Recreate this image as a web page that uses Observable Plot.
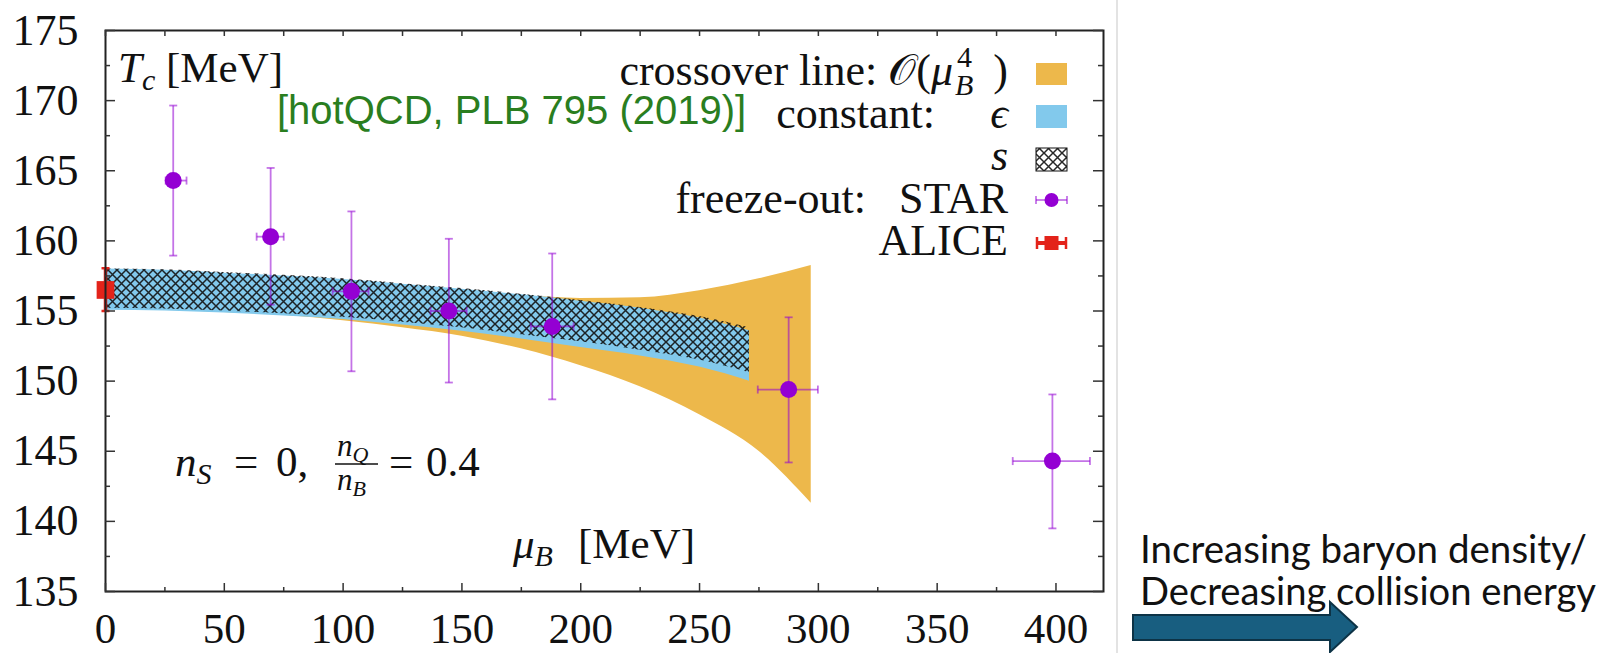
<!DOCTYPE html>
<html><head><meta charset="utf-8">
<script src="https://cdn.jsdelivr.net/npm/d3@7"></script>
<script src="https://cdn.jsdelivr.net/npm/@observablehq/plot@0.6"></script>
<style>
html,body{margin:0;padding:0;background:#fff;}
#wrap{position:relative;width:1615px;height:653px;overflow:hidden;}
</style></head><body><div id="wrap"></div>
<script>
// ---- data ----
const orangeMu = [0,25,50,75,100,125,150,175,200,225,250,275,297];
const orangeHi = [157.9,157.85,157.6,157.35,157.1,156.75,156.4,156.1,155.9,155.95,156.45,157.3,158.25];
const orangeLo = [155.1,155.05,154.9,154.7,154.3,153.8,153.2,152.3,151.1,149.6,147.6,145.0,141.3];
const epsMu = [0,25,50,75,100,125,150,175,200,225,250,271];
const epsHi = [158.0,157.9,157.7,157.5,157.25,156.9,156.55,156.15,155.7,155.2,154.5,153.6];
const epsLo = [155.05,155.0,154.85,154.65,154.4,154.0,153.55,153.0,152.4,151.8,151.0,150.0];
const sHi = [158.0,157.95,157.75,157.55,157.3,156.95,156.6,156.2,155.75,155.25,154.6,153.8];
const sLo = [155.2,155.15,155.0,154.8,154.55,154.2,153.8,153.3,152.8,152.2,151.5,150.6];

const starMu   = [28.5, 69.5, 103.5, 144.5, 188, 287.5, 398.5];
const starMuLo = [25.3, 63.6, 95.6, 136.8, 179, 274.5, 381.8];
const starMuHi = [34.1, 75.0, 110.7, 152.0, 197, 299.8, 414.3];
const starT    = [164.3, 160.3, 156.4, 155.0, 153.9, 149.4, 144.3];
const starTLo  = [158.95, 155.45, 150.7, 149.9, 148.7, 144.2, 139.5];
const starTHi  = [169.65, 165.2, 162.1, 160.15, 159.1, 154.55, 149.05];

const aliceMu = [0];
const aliceT = [156.5];
const aliceTLo = [155.0];
const aliceTHi = [158.05];

const xMajor = [0,50,100,150,200,250,300,350,400];
const xMinor = [25,75,125,175,225,275,325,375];
const yMajor = [135,140,145,150,155,160,165,170,175];
const yMinor = [137.5,142.5,147.5,152.5,157.5,162.5,167.5,172.5];

// ---- tables ----
const orange = orangeMu.map((mu,i)=>({mu, lo:orangeLo[i], hi:orangeHi[i]}));
const eps = epsMu.map((mu,i)=>({mu, lo:epsLo[i], hi:epsHi[i]}));
const sband = epsMu.map((mu,i)=>({mu, lo:sLo[i], hi:sHi[i]}));
const star = starMu.map((mu,i)=>({mu, muLo:starMuLo[i], muHi:starMuHi[i], T:starT[i], lo:starTLo[i], hi:starTHi[i]}));
const alice = aliceMu.map((mu,i)=>({mu, T:aliceT[i], lo:aliceTLo[i], hi:aliceTHi[i]}));

const W=1615, H=653, ML=105, MR=512, MT=30, MB=62;
const PW=W-ML-MR, PH=H-MT-MB;

const hcap = {draw(ctx,size){const r=Math.sqrt(size/Math.PI); ctx.moveTo(-r,0); ctx.lineTo(r,0);}};
const vcap = {draw(ctx,size){const r=Math.sqrt(size/Math.PI); ctx.moveTo(0,-r); ctx.lineTo(0,r);}};

const ORANGE="#EDB84B", BLUE="#82C9EC", PURPLE="#9400D3", RED="#E3231A", TICK="#333";
const ebar = {stroke:PURPLE, strokeOpacity:0.55, strokeWidth:1.8};

const svg = Plot.plot({
  width:W, height:H, marginLeft:ML, marginRight:MR, marginTop:MT, marginBottom:MB,
  x:{domain:[0,420], label:null}, y:{domain:[135,175], label:null},
  style:{fontFamily:"'Liberation Serif', 'DejaVu Serif', serif", background:"transparent", color:"#111", overflow:"visible"},
  marks:[
    Plot.areaY(orange,{x:"mu", y1:"lo", y2:"hi", fill:ORANGE, curve:"monotone-x"}),
    Plot.areaY(eps,{x:"mu", y1:"lo", y2:"hi", fill:BLUE, curve:"monotone-x"}),
    Plot.areaY(sband,{x:"mu", y1:"lo", y2:"hi", fill:"url(#xhatch)", curve:"monotone-x"}),
    // ALICE
    Plot.link(alice,{x1:"mu", x2:"mu", y1:"lo", y2:"hi", stroke:RED, strokeWidth:3.5}),
    Plot.dot(alice,{x:"mu", y:"lo", symbol:hcap, r:4, fill:"none", stroke:RED, strokeWidth:2.5}),
    Plot.dot(alice,{x:"mu", y:"hi", symbol:hcap, r:4, fill:"none", stroke:RED, strokeWidth:2.5}),
    Plot.dot(alice,{x:"mu", y:"T", symbol:"square", r:10, fill:RED, stroke:null}),
    // STAR error bars
    Plot.link(star,{x1:"mu", x2:"mu", y1:"lo", y2:"hi", ...ebar}),
    Plot.link(star,{x1:"muLo", x2:"muHi", y1:"T", y2:"T", ...ebar}),
    Plot.dot(star,{x:"mu", y:"lo", symbol:hcap, r:4, fill:"none", ...ebar}),
    Plot.dot(star,{x:"mu", y:"hi", symbol:hcap, r:4, fill:"none", ...ebar}),
    Plot.dot(star,{x:"muLo", y:"T", symbol:vcap, r:4, fill:"none", ...ebar}),
    Plot.dot(star,{x:"muHi", y:"T", symbol:vcap, r:4, fill:"none", ...ebar}),
    Plot.dot(star,{x:"mu", y:"T", r:8.5, fill:PURPLE, stroke:null}),
    // frame and inward ticks
    Plot.frame({stroke:"#222", strokeWidth:2}),
    Plot.tickY(yMajor,{insetRight:PW-10, stroke:TICK, strokeWidth:1.5}),
    Plot.tickY(yMinor,{insetRight:PW-5, stroke:TICK, strokeWidth:1.5}),
    Plot.tickY(yMajor,{insetLeft:PW-10, stroke:TICK, strokeWidth:1.5}),
    Plot.tickY(yMinor,{insetLeft:PW-5, stroke:TICK, strokeWidth:1.5}),
    Plot.tickX(xMajor,{insetTop:PH-8, stroke:TICK, strokeWidth:1.5}),
    Plot.tickX(xMinor,{insetTop:PH-4, stroke:TICK, strokeWidth:1.5}),
    Plot.tickX(xMajor,{insetBottom:PH-6, stroke:TICK, strokeWidth:1.5}),
    Plot.tickX(xMinor,{insetBottom:PH-6, stroke:TICK, strokeWidth:1.5}),
    Plot.axisY(yMajor,{anchor:"left", tickSize:0, tickPadding:27, fontSize:44, label:null, fill:"#111"}),
    Plot.axisX(xMajor,{anchor:"bottom", tickSize:0, tickPadding:21, fontSize:43, label:null, fill:"#111"})
  ]
});
document.getElementById("wrap").appendChild(svg);

// ---- decorations: pattern, annotations, legend, right panel ----
const NS="http://www.w3.org/2000/svg";
function add(parent, tag, attrs, text){
  const e=document.createElementNS(NS,tag);
  for(const k in attrs) e.setAttribute(k, attrs[k]);
  if(text!=null) e.textContent=text;
  parent.appendChild(e); return e;
}
const defs = document.createElementNS(NS,"defs");
svg.insertBefore(defs, svg.firstChild);
const pat = add(defs,"pattern",{id:"xhatch", patternUnits:"userSpaceOnUse", width:9, height:9});
add(pat,"path",{d:"M-1,-1L10,10M10,-1L-1,10", stroke:"#111", "stroke-width":1.5, fill:"none", "stroke-opacity":0.9});

const SERIF="'Liberation Serif','DejaVu Serif',serif";
const g = add(svg,"g",{"font-family":SERIF, fill:"#111", "text-anchor":"start"});

// T_c [MeV]
let t = add(g,"text",{x:118, y:82, "font-size":43});
add(t,"tspan",{"font-style":"italic"},"T");
add(t,"tspan",{"font-style":"italic","font-size":30, dy:8},"c");
add(t,"tspan",{dy:-8},"\u00a0[MeV]");

// mu_B [MeV]
t = add(g,"text",{x:513, y:558, "font-size":43});
add(t,"tspan",{"font-style":"italic"},"\u03bc");
add(t,"tspan",{"font-style":"italic","font-size":30, dy:8},"B");
add(g,"text",{x:578, y:558, "font-size":43},"[MeV]");

// hotQCD reference
add(g,"text",{x:277, y:124, "font-size":40, "font-family":"'Liberation Sans',Arial,sans-serif", fill:"#2A7E1F"},"[hotQCD, PLB 795 (2019)]");

// n_S = 0, n_Q/n_B = 0.4
t = add(g,"text",{x:175, y:476, "font-size":43});
add(t,"tspan",{"font-style":"italic"},"n");
add(t,"tspan",{"font-style":"italic","font-size":30, dy:8},"S");
add(g,"text",{x:234, y:476, "font-size":43},"=");
add(g,"text",{x:276, y:476, "font-size":43},"0,");
t = add(g,"text",{x:337, y:456, "font-size":31});
add(t,"tspan",{"font-style":"italic"},"n");
add(t,"tspan",{"font-style":"italic","font-size":22, dy:6},"Q");
add(g,"line",{x1:335, x2:378, y1:464, y2:464, stroke:"#111", "stroke-width":1.5});
t = add(g,"text",{x:337, y:490, "font-size":31});
add(t,"tspan",{"font-style":"italic"},"n");
add(t,"tspan",{"font-style":"italic","font-size":22, dy:6},"B");
add(g,"text",{x:389, y:476, "font-size":43},"=");
add(g,"text",{x:426, y:476, "font-size":43},"0.4");

// legend
const LX=1008, SX=1036, SW=31;
t = add(g,"text",{x:953, y:85, "font-size":44, "text-anchor":"end"});
add(t,"tspan",{},"crossover line: \u{1D4AA}(");
add(t,"tspan",{"font-style":"italic"},"\u03bc");
add(g,"text",{x:957, y:67, "font-size":30},"4");
add(g,"text",{x:955, y:95, "font-size":30, "font-style":"italic"},"B");
add(g,"text",{x:LX, y:85, "font-size":44, "text-anchor":"end"},")");
add(g,"rect",{x:SX, y:63, width:SW, height:22, fill:ORANGE});

add(g,"text",{x:935, y:128, "font-size":44, "text-anchor":"end"},"constant:");
add(g,"text",{x:LX, y:128, "font-size":44, "text-anchor":"end", "font-style":"italic"},"\u03f5");
add(g,"rect",{x:SX, y:105, width:SW, height:23, fill:BLUE});

add(g,"text",{x:LX, y:170, "font-size":44, "text-anchor":"end", "font-style":"italic"},"s");
add(g,"rect",{x:SX, y:148, width:SW, height:23, fill:"url(#xhatch)", stroke:"#111", "stroke-width":1});

add(g,"text",{x:866, y:213, "font-size":44, "text-anchor":"end"},"freeze-out:");
add(g,"text",{x:LX, y:213, "font-size":44, "text-anchor":"end"},"STAR");
add(g,"line",{x1:SX, x2:SX+SW, y1:200, y2:200, stroke:PURPLE, "stroke-opacity":0.55, "stroke-width":1.8});
add(g,"line",{x1:SX, x2:SX, y1:196, y2:204, stroke:PURPLE, "stroke-opacity":0.55, "stroke-width":1.8});
add(g,"line",{x1:SX+SW, x2:SX+SW, y1:196, y2:204, stroke:PURPLE, "stroke-opacity":0.55, "stroke-width":1.8});
add(g,"circle",{cx:SX+SW/2, cy:200, r:7, fill:PURPLE});

add(g,"text",{x:LX, y:255, "font-size":44, "text-anchor":"end"},"ALICE");
add(g,"line",{x1:SX, x2:SX+SW, y1:243, y2:243, stroke:RED, "stroke-width":4});
add(g,"line",{x1:SX+1, x2:SX+1, y1:237, y2:249, stroke:RED, "stroke-width":2.5});
add(g,"line",{x1:SX+SW-1, x2:SX+SW-1, y1:237, y2:249, stroke:RED, "stroke-width":2.5});
add(g,"rect",{x:SX+SW/2-7, y:236, width:14, height:14, fill:RED});

// right panel
add(svg,"line",{x1:1117, x2:1117, y1:0, y2:H, stroke:"#e3e3e3", "stroke-width":2});
const SANS="Lato,'Open Sans',sans-serif";
const rp = add(svg,"g",{"font-family":SANS, fill:"#111", "text-anchor":"start"});
add(rp,"text",{x:1140, y:563, "font-size":39, textLength:447, lengthAdjust:"spacingAndGlyphs"},"Increasing baryon density/");
add(rp,"text",{x:1140, y:605, "font-size":39, textLength:456, lengthAdjust:"spacingAndGlyphs"},"Decreasing collision energy");
add(svg,"polygon",{points:"1133,615 1330,615 1330,602 1357,627 1330,652 1330,640 1133,640", fill:"#185E80", stroke:"#0D3346", "stroke-width":2});
</script>
</body></html>
